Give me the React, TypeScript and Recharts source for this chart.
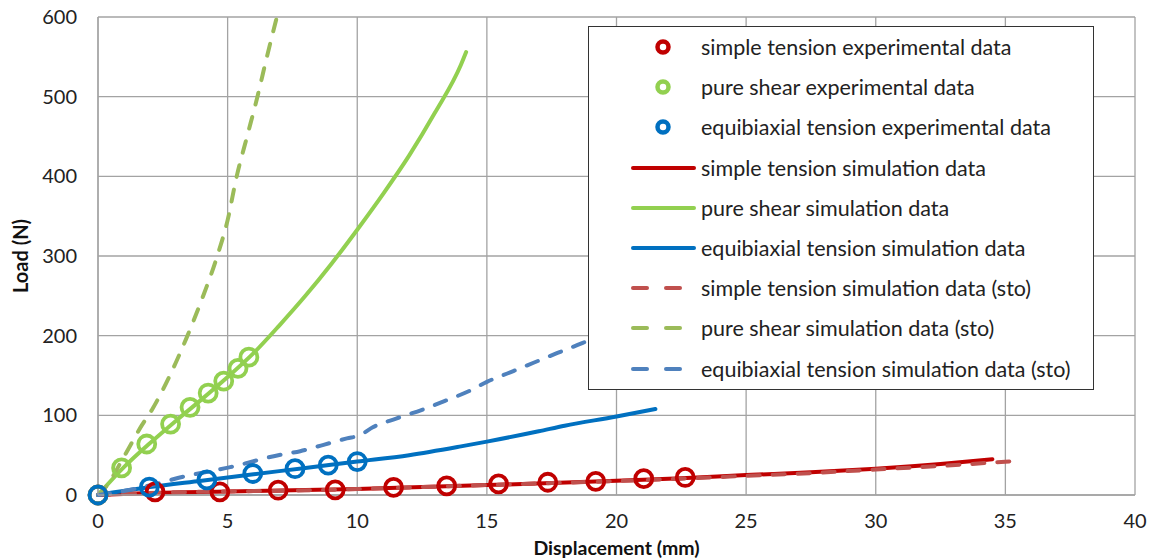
import React from "react";
import { LineChart, Line, XAxis, YAxis, CartesianGrid, Legend } from "recharts";

// experimental points (displacement mm, load N)
const stExpX = [0, 2.2, 4.7, 6.95, 9.15, 11.4, 13.45, 15.45, 17.35, 19.2, 21.05, 22.65];
const stExpY = [0, 4, 4, 6, 6.5, 9.5, 11.5, 14, 16, 17, 20.5, 22];
const psExpX = [0, 0.91, 1.88, 2.8, 3.55, 4.25, 4.85, 5.4, 5.82];
const psExpY = [0, 34, 64, 89, 110, 128, 143, 159, 173];
const ebExpX = [0, 1.98, 4.2, 5.97, 7.6, 8.88, 10];
const ebExpY = [0, 10, 19, 27, 33, 37.5, 42];

// simulation curves
const stSimX = [0, 2, 5, 7, 10, 12.5, 15, 17.5, 20, 22.5, 25, 27.5, 30, 32.5, 34.5];
const stSimY = [0, 2.5, 4.5, 5.5, 7.5, 10, 12.5, 15, 18, 21, 25, 28.5, 33, 39, 45];
const psSimX = [0, 1, 2, 3, 4, 5, 6, 7, 8, 9, 10, 11, 12, 13, 14, 14.2];
const psSimY = [0, 35, 65, 93, 120, 148, 178, 213, 250, 290, 333, 378, 426, 480, 540, 556];
const ebSimX = [0, 2, 4, 6, 8, 10, 12, 14, 15, 17, 18, 20, 21.5];
const ebSimY = [0, 10, 18, 26, 34, 42, 50, 61, 67, 80, 87, 98.5, 108];

// simulation curves (sto)
const stStoX = [0, 2.5, 5, 7.5, 10, 12.5, 15, 17.5, 20, 22.5, 25, 27.5, 30, 32.5, 35.3];
const stStoY = [0, 3, 4.5, 5.5, 7.5, 10, 12.5, 15, 17.5, 20.5, 24, 27.5, 32, 36.5, 42.5];
const psStoX = [0, 0.3, 1, 1.7, 2.1, 2.5, 3, 3.4, 4, 4.6, 5, 5.35, 5.75, 6.15, 6.5, 6.9];
const psStoY = [0, 10, 48, 88, 108, 132, 166, 196, 245, 300, 345, 400, 450, 500, 548, 600];
const ebStoX = [0, 1, 2, 3.3, 5.1, 7.1, 7.8, 8.7, 9.6, 10.1, 10.6, 11.5, 12.5, 13.45, 14.35, 15, 15.9, 16.8, 17.7, 18.7, 19.6, 20.5, 21.4];
const ebStoY = [0, 5, 12, 23, 35, 51, 55, 63, 71, 75, 85, 96, 107, 119, 131, 142, 154, 166, 178, 191, 204, 218, 232];

const xTicks = [0, 5, 10, 15, 20, 25, 30, 35, 40];
const yTicks = [0, 100, 200, 300, 400, 500, 600];

const zip = (xs: number[], ys: number[]) => xs.map((x, i) => ({ x, y: ys[i] }));

type Kind = "marker" | "solid" | "dash";
const SERIES: { name: string; color: string; kind: Kind; data: { x: number; y: number }[] }[] = [
  { name: "simple tension experimental data", color: "#C00000", kind: "marker", data: zip(stExpX, stExpY) },
  { name: "pure shear experimental data", color: "#92D050", kind: "marker", data: zip(psExpX, psExpY) },
  { name: "equibiaxial tension experimental data", color: "#0070C0", kind: "marker", data: zip(ebExpX, ebExpY) },
  { name: "simple tension simulation data", color: "#C00000", kind: "solid", data: zip(stSimX, stSimY) },
  { name: "pure shear simulation data", color: "#92D050", kind: "solid", data: zip(psSimX, psSimY) },
  { name: "equibiaxial tension simulation data", color: "#0070C0", kind: "solid", data: zip(ebSimX, ebSimY) },
  { name: "simple tension simulation data (sto)", color: "#C0504D", kind: "dash", data: zip(stStoX, stStoY) },
  { name: "pure shear simulation data (sto)", color: "#9BBB59", kind: "dash", data: zip(psStoX, psStoY) },
  { name: "equibiaxial tension simulation data (sto)", color: "#4F81BD", kind: "dash", data: zip(ebStoX, ebStoY) },
];

const FONT = "Lato, 'Open Sans', sans-serif";
const GRID = "#a3a3a3";

const LegendBox = () => (
  <div
    style={{
      width: 506,
      border: "1.5px solid #333",
      background: "#fff",
      boxSizing: "border-box",
      fontFamily: FONT,
      fontSize: 21.5,
      color: "#222",
    }}
  >
    {SERIES.map((s) => (
      <div key={s.name} style={{ display: "flex", alignItems: "center", height: 40.2 }}>
        <svg width={112} height={20} style={{ flex: "none" }}>
          {s.kind === "marker" && <circle cx={74} cy={10} r={5.5} fill="none" stroke={s.color} strokeWidth={4.5} />}
          {s.kind === "solid" && <line x1={44} y1={10} x2={105} y2={10} stroke={s.color} strokeWidth={4} strokeLinecap="round" />}
          {s.kind === "dash" && (
            <>
              <line x1={44} y1={10} x2={58} y2={10} stroke={s.color} strokeWidth={4} strokeLinecap="round" />
              <line x1={77} y1={10} x2={91} y2={10} stroke={s.color} strokeWidth={4} strokeLinecap="round" />
            </>
          )}
        </svg>
        <span style={{ whiteSpace: "nowrap" }}>{s.name}</span>
      </div>
    ))}
  </div>
);

export default function App() {
  return (
    <div style={{ position: "absolute", left: 0, top: 0, background: "#fff" }}>
      <LineChart width={1151} height={559} margin={{ top: 17, right: 16, bottom: 0, left: 0 }}>
        <CartesianGrid stroke={GRID} strokeWidth={1.3} />
        <XAxis
          type="number"
          dataKey="x"
          domain={[0, 40]}
          ticks={xTicks}
          height={64}
          tickSize={0}
          tickMargin={19}
          axisLine={{ stroke: GRID, strokeWidth: 1.3 }}
          tick={{ fill: "#222", fontSize: 20, fontFamily: FONT }}
          label={{
            value: "Displacement (mm)",
            position: "insideBottom",
            offset: 4,
            style: { fill: "#111", fontSize: 19.5, fontWeight: 700, fontFamily: FONT },
          }}
        />
        <YAxis
          type="number"
          dataKey="y"
          domain={[0, 600]}
          ticks={yTicks}
          width={98}
          tickSize={0}
          tickMargin={21}
          axisLine={{ stroke: GRID, strokeWidth: 1.3 }}
          tick={{ fill: "#222", fontSize: 20, fontFamily: FONT }}
          label={{
            value: "Load (N)",
            angle: -90,
            position: "insideLeft",
            offset: 21,
            style: { textAnchor: "middle", fill: "#111", fontSize: 20, fontWeight: 700, fontFamily: FONT },
          }}
        />
        {SERIES.map((s) =>
          s.kind === "marker" ? (
            <Line
              key={s.name}
              data={s.data}
              dataKey="y"
              name={s.name}
              stroke="none"
              dot={{ r: 8.5, stroke: s.color, strokeWidth: 3.8, fill: "none" }}
              activeDot={false}
              isAnimationActive={false}
            />
          ) : (
            <Line
              key={s.name}
              data={s.data}
              dataKey="y"
              name={s.name}
              type="monotone"
              stroke={s.color}
              strokeWidth={4}
              strokeLinecap="round"
              strokeDasharray={s.kind === "dash" ? "12 13" : undefined}
              dot={false}
              activeDot={false}
              isAnimationActive={false}
            />
          )
        )}
        <Legend
          layout="vertical"
          align="center"
          verticalAlign="middle"
          content={() => <LegendBox />}
          wrapperStyle={{ left: 588, top: 26, width: 506 }}
        />
      </LineChart>
    </div>
  );
}
